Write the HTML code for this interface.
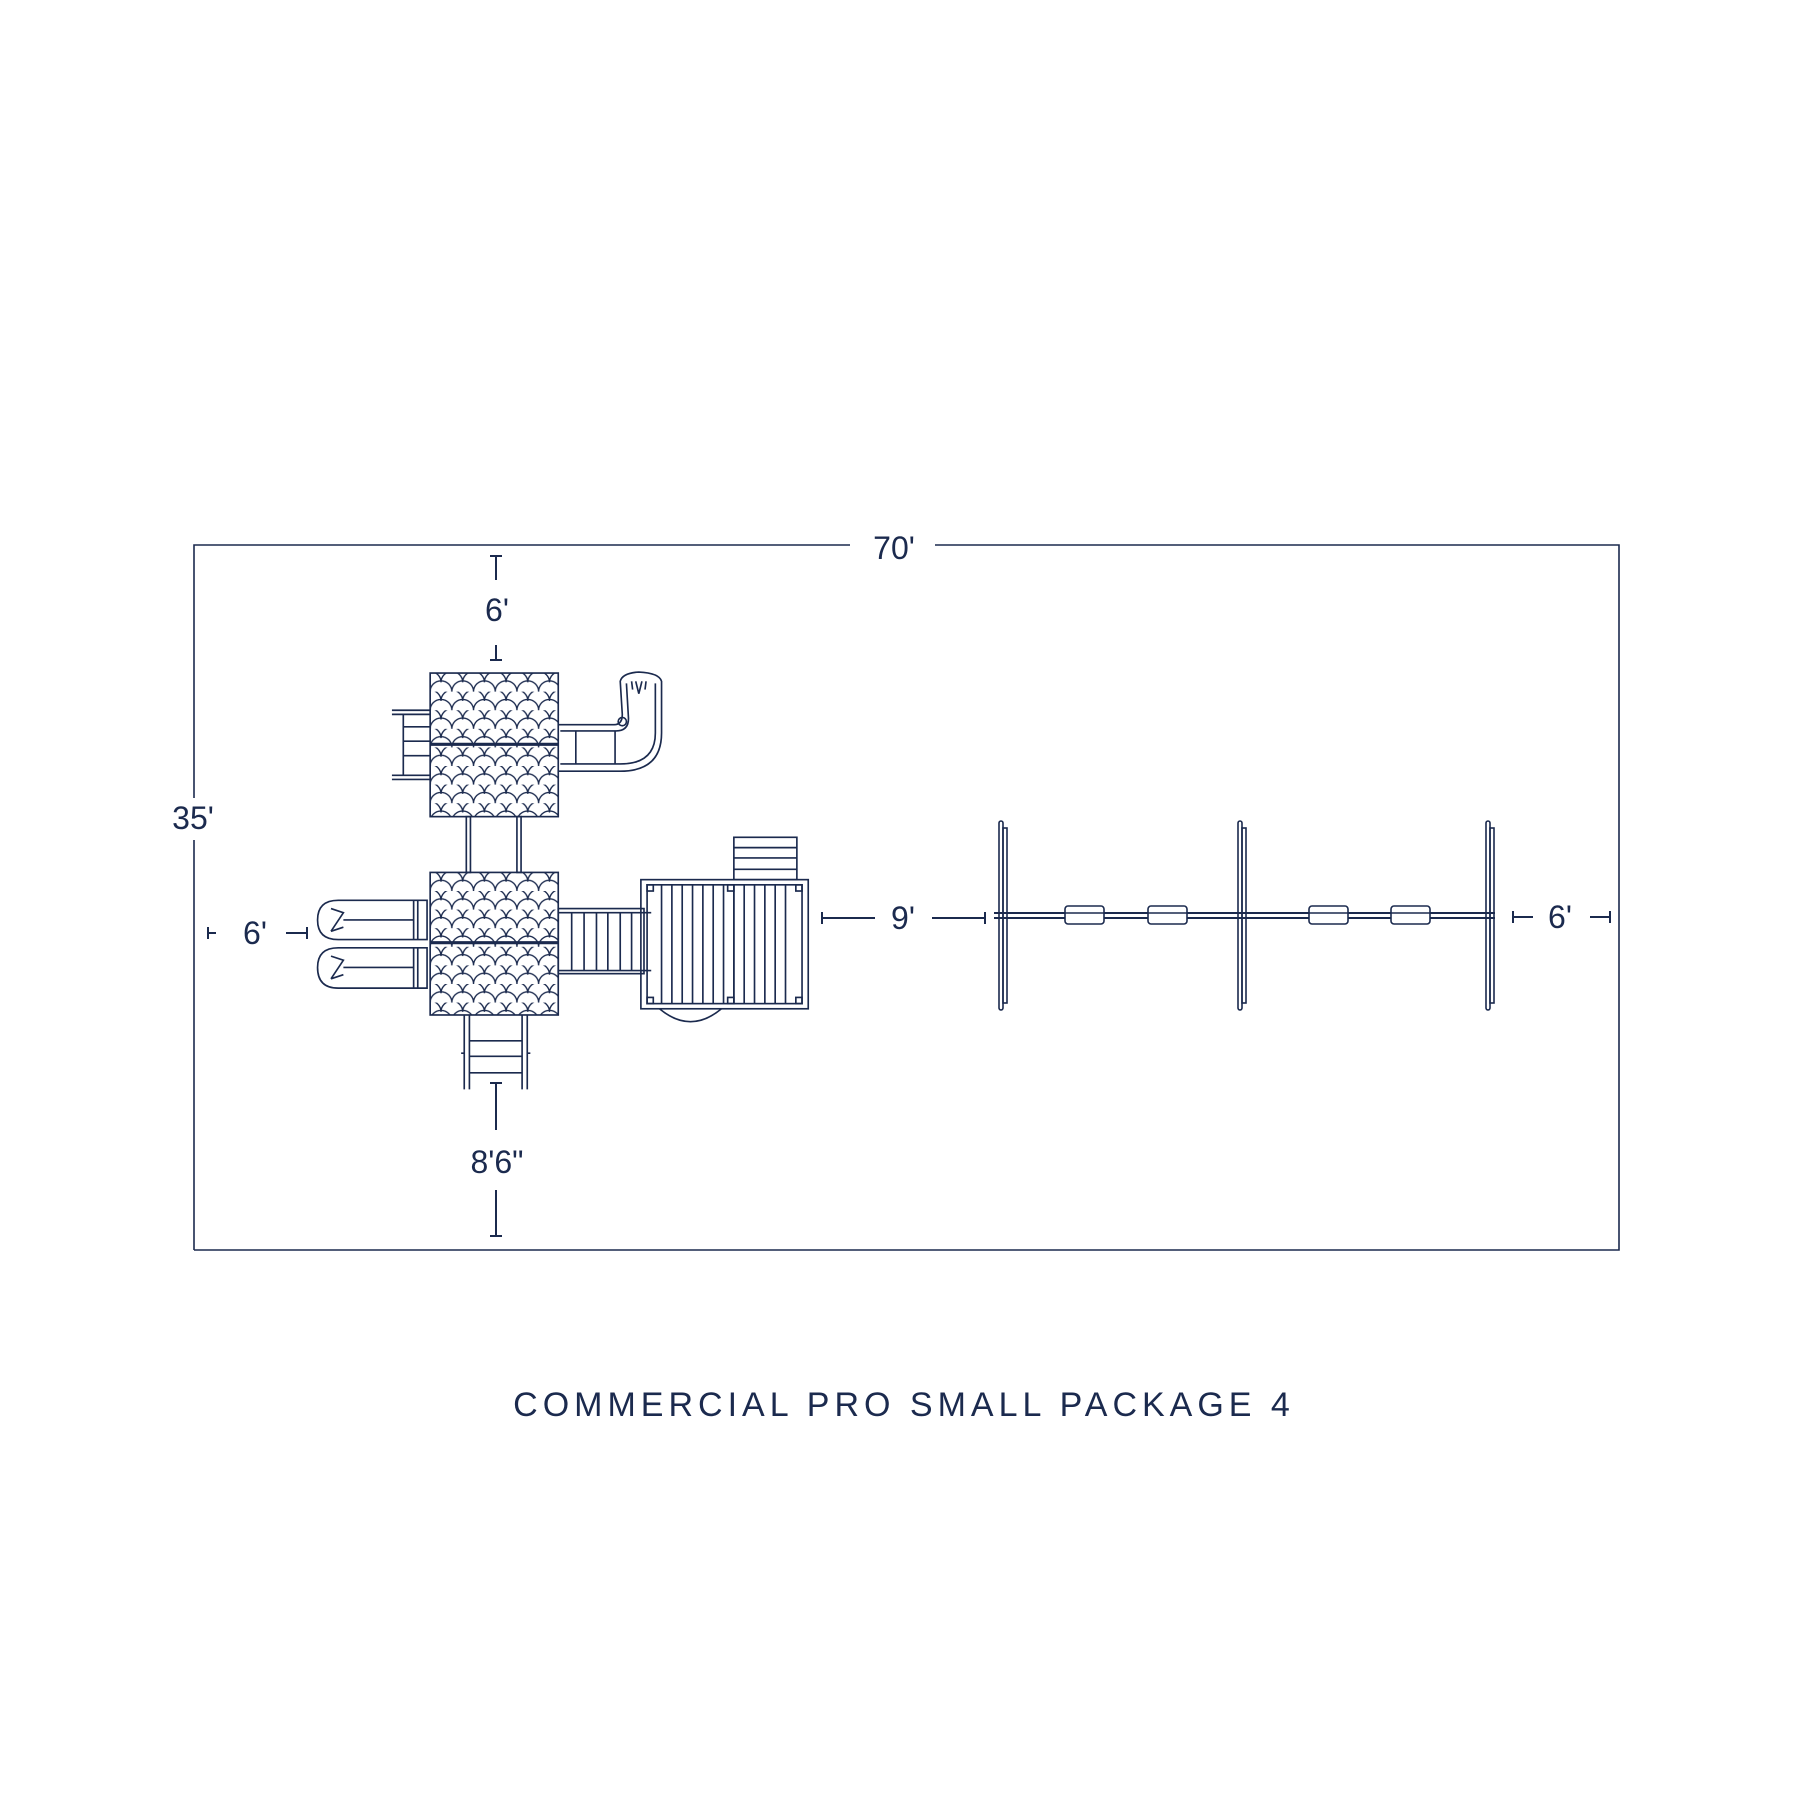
<!DOCTYPE html>
<html><head><meta charset="utf-8"><style>
html,body{margin:0;padding:0;background:#fff}
svg{display:block}
text{font-family:"Liberation Sans",sans-serif;fill:#1b2a4e}
</style></head><body>
<svg width="1800" height="1800" viewBox="0 0 1800 1800" xmlns="http://www.w3.org/2000/svg">
<defs>
<pattern id="sc" x="426" y="672" width="21" height="18" patternUnits="userSpaceOnUse">
<path d="M0 18 A10.5 10.5 0 0 1 21 18 M-10.5 9 A10.5 10.5 0 0 1 10.5 9 M10.5 9 A10.5 10.5 0 0 1 31.5 9" fill="none" stroke="#1b2a4e" stroke-width="1.3"/>
</pattern>
<pattern id="sc2" x="426" y="865" width="21" height="18" patternUnits="userSpaceOnUse">
<path d="M0 18 A10.5 10.5 0 0 1 21 18 M-10.5 9 A10.5 10.5 0 0 1 10.5 9 M10.5 9 A10.5 10.5 0 0 1 31.5 9" fill="none" stroke="#1b2a4e" stroke-width="1.3"/>
</pattern>
</defs>
<g stroke="#1b2a4e" fill="none" stroke-width="1.6">
<!-- outer box -->
<path d="M194 1250 V840 M194 798 V545 H850 M935 545 H1619 V1250 H194"/>
<!-- dims -->
<path d="M490 556 H502 M496 556 V580 M496 645 V660 M490 660 H502" stroke-width="2"/>
<path d="M490 1083 H502 M496 1083 V1130 M496 1190 V1236 M490 1236 H502" stroke-width="2"/>
<path d="M208 927 V939 M208 933 H216 M286 933 H307 M307 927 V939" stroke-width="2"/>
<path d="M822 912 V924 M822 918 H875 M932 918 H985 M985 912 V924" stroke-width="2"/>
<path d="M1513 911 V923 M1513 917 H1533 M1590 917 H1610 M1610 911 V923" stroke-width="2"/>

<g transform="translate(300,640) scale(1.033) translate(-300,-640)">
<rect x="426" y="672" width="124" height="139" fill="url(#sc)"/>
<line x1="426" y1="741" x2="550" y2="741" stroke-width="3"/>
<path d="M389 708 H426 M389 712 H426 M389 775 H426 M389 771 H426 M400 712 V771 M400 724 H426 M400 738 H426 M400 752 H426"/>
<path d="M550 722 H604 Q612 722 612 712 L610 680 Q612 672 628 671 Q648 672 650 680 L650 730 Q650 767 610 767 H550"/>
<path d="M552 728 H606 Q618 728 618 716 L616 682 M644 682 L644 730 Q644 760 610 760 H552"/>
<line x1="567" y1="728" x2="567" y2="760"/><line x1="605" y1="728" x2="605" y2="760"/>
<circle cx="612" cy="719" r="4"/>
<path d="M625 680 L628 692 L631 680 M621 680 L622 688 M635 680 L634 688"/>
<rect x="461" y="811" width="4" height="54"/><rect x="510" y="811" width="4" height="54"/>
<rect x="426" y="865" width="124" height="138" fill="url(#sc2)"/>
<line x1="426" y1="933" x2="550" y2="933" stroke-width="3"/>
<path d="M423 892 H337 Q317 892 317 911 Q317 930 337 930 H423 Z"/>
<path d="M410 892 V930 M414 892 V930 M342 911 H410 M330 900 L342 904 L330 922 M342 918 L330 922"/>
<path d="M423 938 H337 Q317 938 317 957 Q317 977 337 977 H423 Z"/>
<path d="M410 938 V977 M414 938 V977 M342 957 H410 M330 946 L342 950 L330 968 M342 964 L330 968"/>
<path d="M459 1003 V1075 M464 1003 V1075 M515 1003 V1075 M520 1003 V1075 M464 1028 H515 M464 1043 H515 M464 1059 H515 M456 1040 H459 M520 1040 H523"/>
<rect x="550" y="900" width="83" height="63"/>
<path d="M563 904 V960 M575 904 V960 M587 904 V960 M598 904 V960 M610 904 V960 M621 904 V960 M550 904 H640 M550 960 H640"/>
<rect x="630" y="872" width="162" height="125"/>
<rect x="636" y="877" width="84" height="115"/>
<rect x="720" y="877" width="66" height="115"/>
<path d="M650 877 V992 M660 877 V992 M670 877 V992 M680 877 V992 M690 877 V992 M700 877 V992 M710 877 V992 M730 877 V992 M740 877 V992 M750 877 V992 M760 877 V992 M770 877 V992"/>
<rect x="720" y="831" width="61" height="41"/>
<path d="M720 841 H781 M720 851 H781 M720 862 H781"/>
<path d="M648 997 Q678 1022 708 997"/>
<rect x="636" y="877" width="6" height="6"/><rect x="714" y="877" width="6" height="6"/><rect x="714" y="986" width="6" height="6"/><rect x="636" y="986" width="6" height="6"/><rect x="780" y="877" width="6" height="6"/><rect x="780" y="986" width="6" height="6"/>
</g>

<g stroke-width="1.6">
<rect x="999" y="821" width="4" height="189" rx="2"/><rect x="1003" y="828" width="4" height="175"/>
<rect x="1238" y="821" width="4" height="189" rx="2"/><rect x="1242" y="828" width="4" height="175"/>
<rect x="1486" y="821" width="4" height="189" rx="2"/><rect x="1490" y="828" width="4" height="175"/>
</g>
<path d="M994 913 H1495 M994 918 H1495" stroke-width="2"/>
<g stroke-width="1.6" fill="#fff">
<rect x="1065" y="906" width="39" height="18" rx="3"/>
<rect x="1148" y="906" width="39" height="18" rx="3"/>
<rect x="1309" y="906" width="39" height="18" rx="3"/>
<rect x="1391" y="906" width="39" height="18" rx="3"/>
</g>
<path d="M1065 913 H1104 M1148 913 H1187 M1309 913 H1348 M1391 913 H1430" stroke-width="1.5"/>
</g>
<g font-size="32" text-anchor="middle" dominant-baseline="central">
<text x="894" y="548">70'</text>
<text x="193" y="818">35'</text>
<text x="497" y="610">6'</text>
<text x="497" y="1162">8'6"</text>
<text x="255" y="933">6'</text>
<text x="903" y="918">9'</text>
<text x="1560" y="917">6'</text>
</g>
<text x="904" y="1405" font-size="34" text-anchor="middle" dominant-baseline="central" letter-spacing="5">COMMERCIAL PRO SMALL PACKAGE 4</text>
</svg>
</body></html>
